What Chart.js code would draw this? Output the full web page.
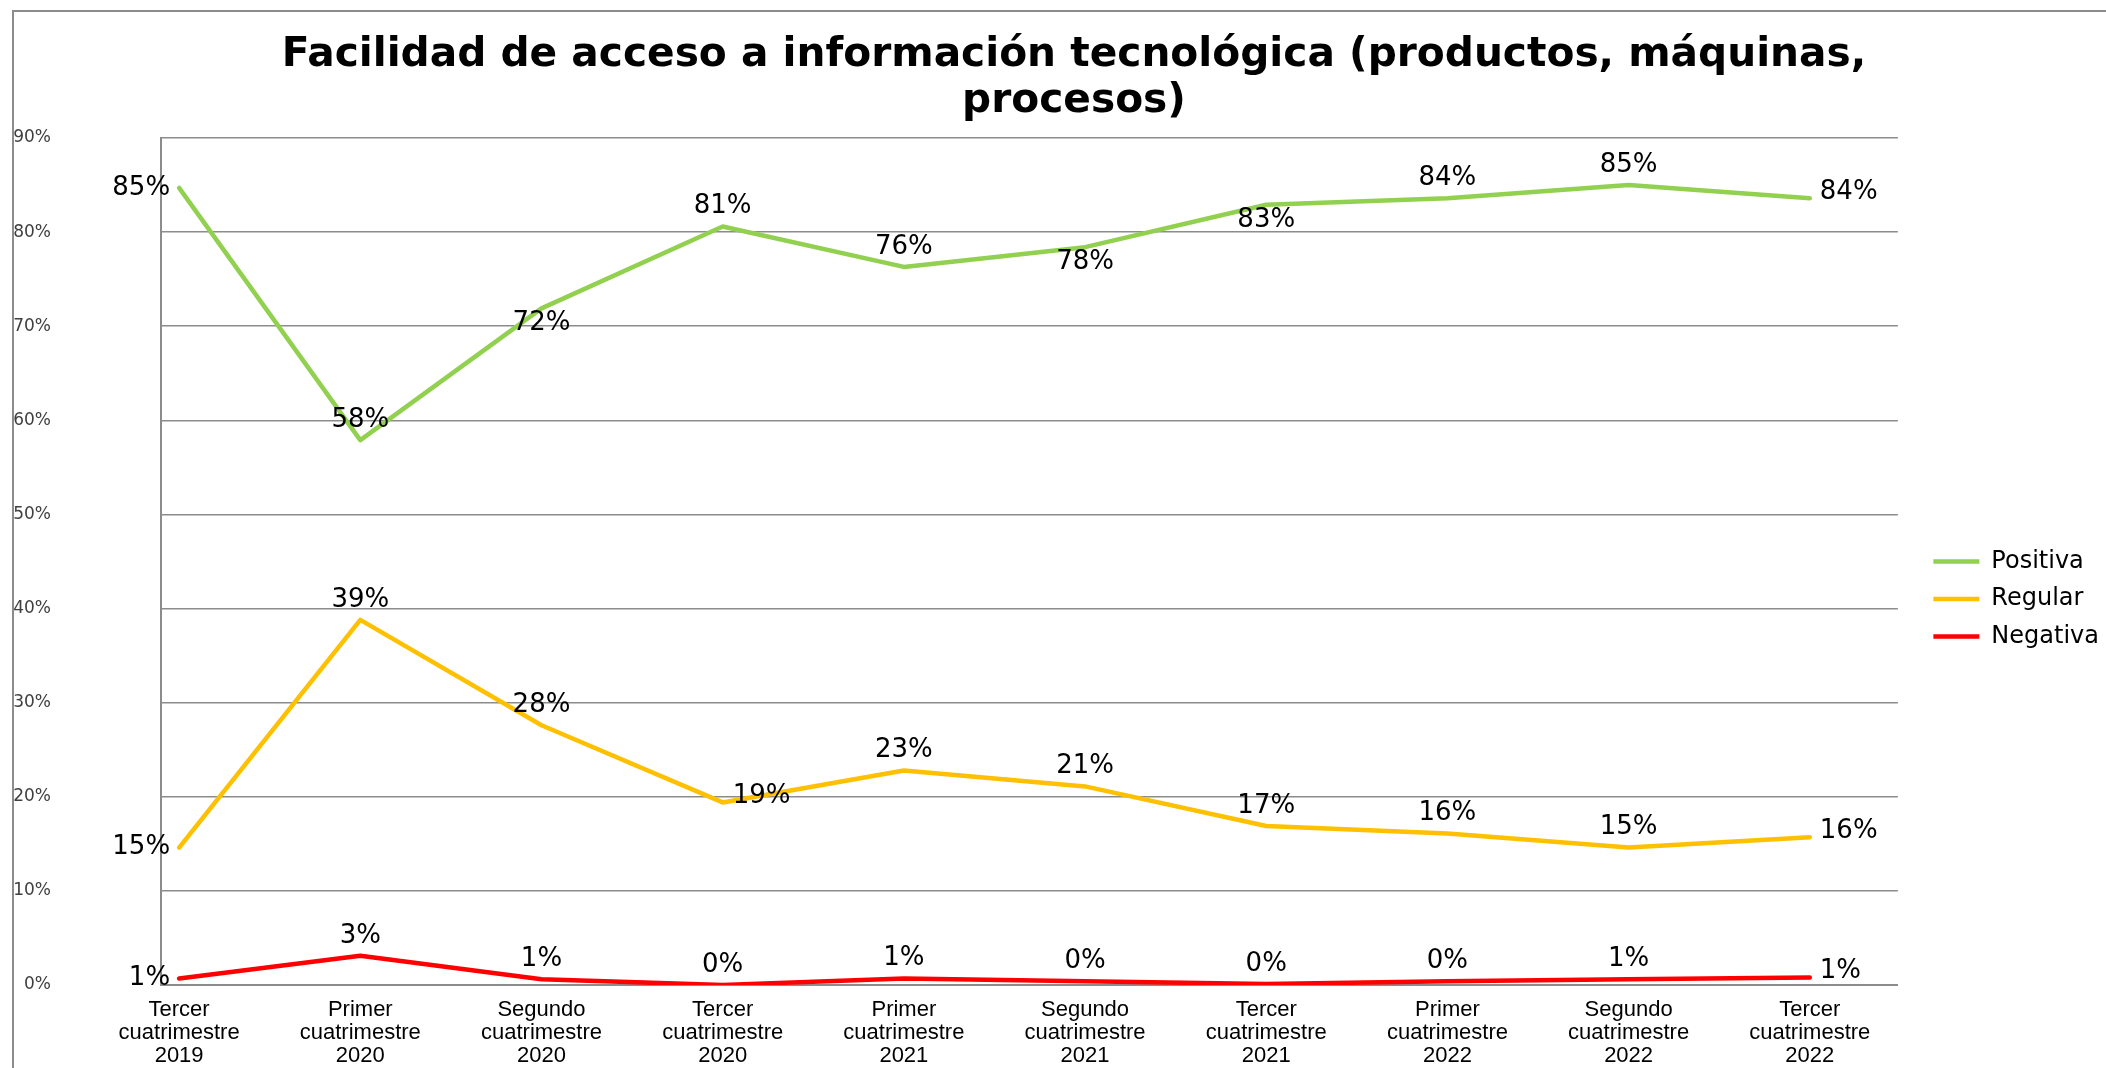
<!DOCTYPE html>
<html>
<head>
<meta charset="utf-8">
<title>Facilidad de acceso a información tecnológica</title>
<script src="https://cdn.jsdelivr.net/npm/chart.js@4.4.1/dist/chart.umd.min.js"></script>
<style>
  html, body { margin: 0; padding: 0; background: #fff; overflow: hidden; }
  canvas { display: block; }
</style>
</head>
<body>
<canvas id="lineChart" width="2106" height="1068"></canvas>
<script>
'use strict';

const categories = [
  'Tercer cuatrimestre 2019', 'Primer cuatrimestre 2020', 'Segundo cuatrimestre 2020',
  'Tercer cuatrimestre 2020', 'Primer cuatrimestre 2021', 'Segundo cuatrimestre 2021',
  'Tercer cuatrimestre 2021', 'Primer cuatrimestre 2022', 'Segundo cuatrimestre 2022',
  'Tercer cuatrimestre 2022'
];
const positiva = [84.7, 57.9, 71.9, 80.6, 76.3, 78.4, 82.9, 83.6, 85.0, 83.6];
const regular = [14.6, 38.8, 27.6, 19.4, 22.8, 21.1, 16.9, 16.1, 14.6, 15.7];
const negativa = [0.7, 3.1, 0.6, 0.0, 0.7, 0.4, 0.1, 0.4, 0.6, 0.8];
const yTickValues = [0, 10, 20, 30, 40, 50, 60, 70, 80, 90];

// where each data label sits relative to its point
const posPositiva = ['left', 'above', 'below', 'above', 'above', 'below', 'below', 'above', 'above', 'right'];
const posRegular = ['left', 'above', 'above', 'right', 'above', 'above', 'above', 'above', 'above', 'right'];
const posNegativa = ['left', 'above', 'above', 'above', 'above', 'above', 'above', 'above', 'above', 'right'];

function toPoints(values) {
  return values.map((v, i) => ({ x: i, y: v }));
}

// grey frame of the chart object, plus nudging title and legend like the original
const frame = {
  id: 'frame',
  afterLayout(chart) {
    chart.titleBlock.left += 48;
    const lg = chart.legend;
    const dx = chart.chartArea.right + 22 - lg.left;
    lg.left += dx;
    lg.right += dx;
    lg.top += 65;
    lg.bottom += 65;
  },
  beforeDraw(chart) {
    const ctx = chart.ctx;
    ctx.save();
    ctx.strokeStyle = '#8c8c8c';
    ctx.lineWidth = 2;
    ctx.beginPath();
    ctx.moveTo(13, chart.height);
    ctx.lineTo(13, 11);
    ctx.lineTo(chart.width, 11);
    ctx.stroke();
    ctx.restore();
  }
};

const dataLabels = {
  id: 'dataLabels',
  afterDatasetsDraw(chart) {
    const ctx = chart.ctx;
    ctx.save();
    ctx.font = '26px "DejaVu Sans"';
    ctx.fillStyle = '#000';
    ctx.textBaseline = 'middle';
    chart.data.datasets.forEach((ds, di) => {
      const meta = chart.getDatasetMeta(di);
      meta.data.forEach((pt, i) => {
        const txt = Math.round(ds.data[i].y) + '%';
        const pos = ds.labelPos[i];
        let x = pt.x, y = pt.y;
        if (pos === 'left') { ctx.textAlign = 'right'; x -= 9; }
        else if (pos === 'right') { ctx.textAlign = 'left'; x += 10; y -= 6; }
        else if (pos === 'below') { ctx.textAlign = 'center'; y += 15; }
        else { ctx.textAlign = 'center'; y -= 20; }
        ctx.fillText(txt, x, y);
      });
    });
    ctx.restore();
  }
};

const seriesStyle = (label, values, color, labelPos) => ({
  label: label,
  data: toPoints(values),
  borderColor: color,
  backgroundColor: color,
  borderWidth: 4.5,
  borderCapStyle: 'round',
  borderJoinStyle: 'round',
  pointRadius: 0,
  tension: 0,
  fill: false,
  labelPos: labelPos
});

const chartConfig = {
  type: 'line',
  data: {
    datasets: [
      seriesStyle('Positiva', positiva, '#92D050', posPositiva),
      seriesStyle('Regular', regular, '#FFC000', posRegular),
      seriesStyle('Negativa', negativa, '#FF0000', posNegativa)
    ]
  },
  options: {
    responsive: false,
    animation: false,
    devicePixelRatio: 1,
    layout: { padding: { left: 13, right: 19, top: 0, bottom: 0 } },
    plugins: {
      title: {
        display: true,
        text: ['Facilidad de acceso a información tecnológica (productos, máquinas,', 'procesos)'],
        color: '#000',
        font: { family: '"DejaVu Sans"', size: 40.7, weight: 'bold', lineHeight: 1.13 },
        padding: { top: 32, bottom: 14 }
      },
      legend: {
        position: 'right',
        labels: {
          usePointStyle: true,
          pointStyle: 'line',
          pointStyleWidth: 46,
          padding: 13.5,
          color: '#000',
          font: { family: '"DejaVu Sans"', size: 24 }
        }
      },
      tooltip: { enabled: false }
    },
    scales: {
      x: {
        type: 'linear',
        min: -0.1,
        max: 9.486,
        afterBuildTicks: s => { s.ticks = categories.map((c, i) => ({ value: i })); },
        afterFit: s => { s.height = 83; },
        grid: { display: false, drawTicks: false },
        border: { display: true, color: '#8c8c8c', width: 2 },
        ticks: {
          autoSkip: false,
          maxRotation: 0,
          padding: 13,
          color: '#000',
          font: { family: '"Liberation Sans"', size: 22, lineHeight: 1.045 },
          callback: v => categories[v] ? categories[v].split(' ') : ''
        }
      },
      y: {
        min: 0,
        max: 90,
        afterBuildTicks: s => { s.ticks = yTickValues.map(v => ({ value: v })); },
        afterFit: s => { s.width = 148; },
        grid: { color: '#8c8c8c', lineWidth: 1.5, drawTicks: true, tickLength: 110, tickColor: 'rgba(0,0,0,0)' },
        border: { display: true, color: '#8c8c8c', width: 2 },
        ticks: {
          padding: 0,
          color: '#404040',
          font: { family: '"DejaVu Sans"', size: 17 },
          callback: v => v + '%'
        }
      }
    }
  },
  plugins: [frame, dataLabels]
};

const lineCanvas = document.getElementById('lineChart').getContext('2d');
const myChart = new Chart(lineCanvas, chartConfig);
</script>
</body>
</html>
